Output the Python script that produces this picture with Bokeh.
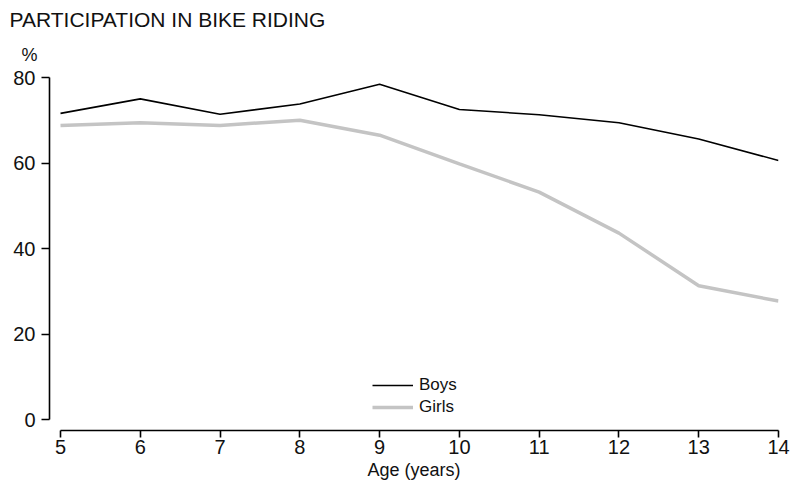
from bokeh.plotting import figure
from bokeh.models import Range1d, FixedTicker, Legend, LegendItem, Title
from bokeh.embed import file_html
from bokeh.resources import INLINE

ages = [5, 6, 7, 8, 9, 10, 11, 12, 13, 14]
boys = [71.6, 75.0, 71.4, 73.8, 78.4, 72.5, 71.3, 69.4, 65.6, 60.6]
girls = [68.8, 69.4, 68.8, 70.0, 66.5, 59.8, 53.2, 43.6, 31.3, 27.7]
y_ticks = [0, 20, 40, 60, 80]

FONT = "Liberation Sans"

p = figure(width=790, height=487, output_backend="svg", toolbar_location=None,
           x_range=Range1d(4.862, 14), y_range=Range1d(-2.57, 80),
           min_border_left=49, min_border_right=12, min_border_top=77,
           min_border_bottom=57, title=None)

pct = Title(text="%", text_font=FONT, text_font_size="18px",
            text_font_style="normal", text_color="#111111",
            align="left", offset=-28, standoff=25)
p.add_layout(pct, "above")
main = Title(text="PARTICIPATION IN BIKE RIDING", text_font=FONT,
             text_font_size="21px", text_font_style="normal",
             text_color="#111111", align="left", offset=-40, standoff=-1)
p.add_layout(main, "above")

p.outline_line_color = None
p.grid.visible = False

for ax in (p.xaxis[0], p.yaxis[0]):
    ax.axis_line_color = "black"
    ax.axis_line_width = 1.6
    ax.major_tick_line_color = "black"
    ax.major_tick_line_width = 1.6
    ax.major_tick_in = 0
    ax.minor_tick_line_color = None
    ax.major_label_text_font = FONT
    ax.major_label_text_font_size = "20px"
    ax.major_label_text_color = "#111111"

p.xaxis.ticker = FixedTicker(ticks=ages)
p.xaxis.bounds = (5, 14)
p.xaxis.major_tick_out = 7
p.xaxis.major_label_standoff = 2
p.xaxis.axis_label = "Age (years)"
p.xaxis.axis_label_text_font = FONT
p.xaxis.axis_label_text_font_size = "18px"
p.xaxis.axis_label_text_font_style = "normal"
p.xaxis.axis_label_text_color = "#111111"
p.xaxis.axis_label_standoff = 3

p.yaxis.ticker = FixedTicker(ticks=y_ticks)
p.yaxis.bounds = (0, 80)
p.yaxis.major_tick_out = 8
p.yaxis.major_label_standoff = 6

rb = p.line(ages, boys, line_color="black", line_width=1.6)
rg = p.line(ages, girls, line_color="#c4c4c4", line_width=3.5)

legend = Legend(items=[LegendItem(label="Boys", renderers=[rb]),
                       LegendItem(label="Girls", renderers=[rg])],
                location=(323, 13), orientation="vertical",
                glyph_width=41, glyph_height=20, label_standoff=6,
                spacing=2, padding=0, margin=0,
                border_line_color=None, background_fill_alpha=0,
                label_text_font=FONT, label_text_font_size="17px",
                label_text_color="#111111")
p.add_layout(legend, "center")

open("out.html", "w").write(file_html(p, INLINE))
